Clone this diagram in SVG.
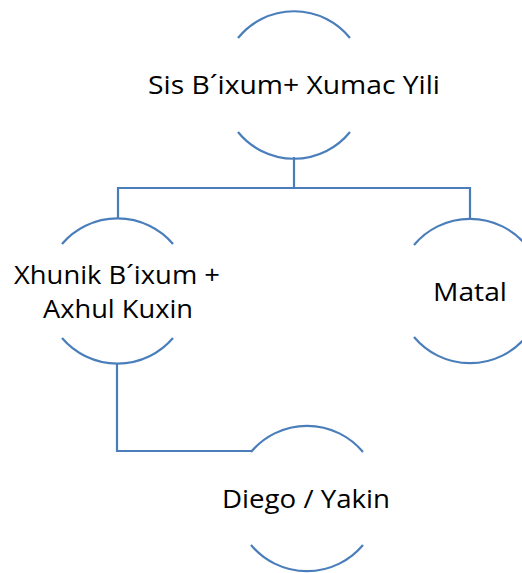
<svg xmlns="http://www.w3.org/2000/svg" width="522" height="573" viewBox="0 0 522 573">
  <style>
    .arc { fill: none; stroke: #4A7EBB; stroke-width: 2.2; }
    .link { fill: none; stroke: #4A7EBB; stroke-width: 2.2; }
    .label { font-family: "Open Sans", "Liberation Sans", sans-serif; font-size: 26px; fill: #000; text-anchor: middle; }
  </style>
  <rect width="522" height="573" fill="#fff"/>

  <g id="connectors">
    <path class="link" d="M294,157 V188 M118,218 V188 H470 V218"/>
    <path class="link" d="M117,364 V451 H252"/>
  </g>

  <!-- each node: top and bottom arcs of a circle, r = 73 -->
  <g id="node-sis">
    <path class="arc" d="M238,38 A72,72 0 0 1 350,38"/>
    <path class="arc" d="M238,132 A72,72 0 0 0 350,132"/>
    <text class="label" x="294" y="94" textLength="292" lengthAdjust="spacingAndGlyphs">Sis B´ixum+ Xumac Yili</text>
  </g>

  <g id="node-xhunik">
    <path class="arc" d="M62,244 A73,73 0 0 1 173,244"/>
    <path class="arc" d="M62,338 A73,73 0 0 0 173,338"/>
    <text class="label" x="117" y="284" textLength="206" lengthAdjust="spacingAndGlyphs">Xhunik B´ixum +</text>
    <text class="label" x="118" y="318" textLength="150" lengthAdjust="spacingAndGlyphs">Axhul Kuxin</text>
  </g>

  <g id="node-matal">
    <path class="arc" d="M414,245 A73,73 0 0 1 526,245"/>
    <path class="arc" d="M414,337 A73,73 0 0 0 526,337"/>
    <text class="label" x="470" y="301" textLength="74" lengthAdjust="spacingAndGlyphs">Matal</text>
  </g>

  <g id="node-diego">
    <path class="arc" d="M251,452 A73,73 0 0 1 363,452"/>
    <path class="arc" d="M251,545 A73,73 0 0 0 363,545"/>
    <text class="label" x="306" y="508" textLength="168" lengthAdjust="spacingAndGlyphs">Diego / Yakin</text>
  </g>
</svg>
